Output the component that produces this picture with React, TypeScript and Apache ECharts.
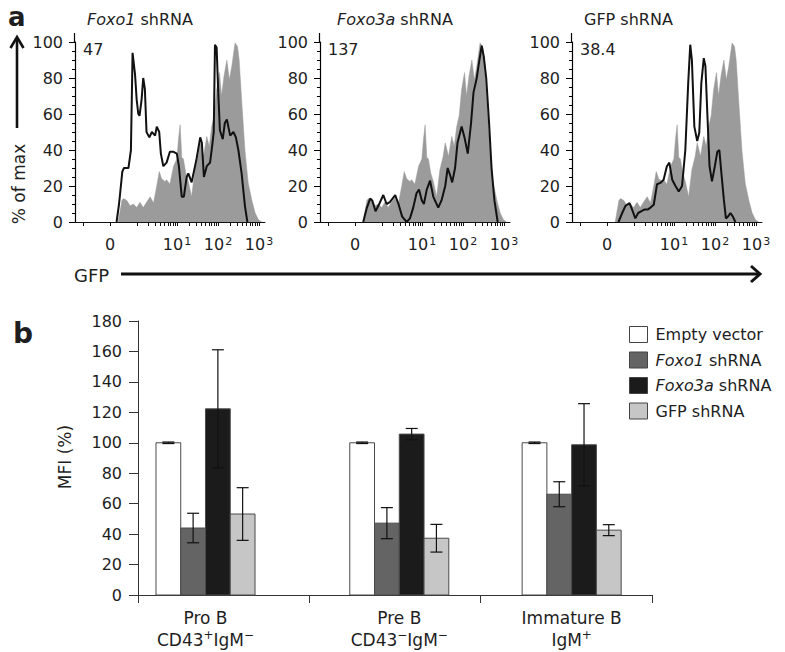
import React, { useEffect, useRef } from "react";
import * as echarts from "echarts";

const FONT = "'DejaVu Sans', 'Liberation Sans', sans-serif";
const TXT = "#1e1e1e";

// ---------------- Panel a : GFP histograms ----------------
// display transform of the biexponential GFP axis (decades on screen)
const BIEX_C = 0.465;
const toDisplay = (v: number) => Math.asinh(v / BIEX_C) / Math.LN10;

const histTitles = ["{i|Foxo1} shRNA", "{i|Foxo3a} shRNA", "GFP shRNA"];
const histMFI = ["47", "137", "38.4"];
const gfpTickValues = [0, 10, 100, 1000];
const gfpTickLabels = ["0", "10{s|1}", "10{s|2}", "10{s|3}"];
const gfpMinorTicks = [
  -1, 0, 1, 2, 3, 4, 5, 6, 7, 8, 9, 10, 20, 30, 40, 50, 60, 70, 80, 90, 100,
  200, 300, 400, 500, 600, 700, 800, 900, 1000,
];
const pctMajorTicks = [0, 20, 40, 60, 80, 100];
const pctMinorTicks = [5, 10, 15, 25, 30, 35, 45, 50, 55, 65, 70, 75, 85, 90, 95];
const PCT_MAX = 100;
const PCT_LINE_TOP = 105;

// x in display decades (0 = GFP 0), y in % of max
const controlHist: [number, number][] = [
  [0.2, 0], [0.29, 12], [0.33, 13], [0.41, 12], [0.49, 9], [0.57, 10], [0.65, 8],
  [0.73, 11], [0.81, 8], [0.89, 11], [0.98, 14], [1.06, 10.5], [1.14, 20],
  [1.2, 28], [1.26, 24], [1.34, 22.5], [1.38, 23.5], [1.46, 21], [1.55, 31],
  [1.63, 35], [1.67, 46], [1.71, 54], [1.75, 36], [1.79, 35], [1.85, 27],
  [1.91, 22.5], [1.99, 14], [2.07, 29], [2.15, 36.5], [2.2, 44], [2.28, 36.5],
  [2.36, 47.5], [2.42, 42], [2.48, 53], [2.54, 59], [2.6, 73.5], [2.67, 83],
  [2.72, 70], [2.78, 81], [2.85, 90], [2.91, 79], [2.97, 86.5], [3.05, 99.5],
  [3.11, 97.5], [3.15, 90], [3.21, 68], [3.29, 40], [3.37, 21.7], [3.46, 12],
  [3.54, 5], [3.62, 1.3], [3.7, 0],
];
const foxo1Hist: [number, number][] = [
  [0.16, 0], [0.22, 10], [0.3, 28], [0.34, 30], [0.45, 30], [0.51, 40], [0.55, 94],
  [0.61, 82], [0.65, 68], [0.69, 60], [0.72, 59], [0.77, 68], [0.81, 80],
  [0.85, 74], [0.89, 50], [0.96, 47], [1.02, 50], [1.1, 48], [1.14, 53],
  [1.2, 50], [1.24, 38], [1.3, 31], [1.38, 33], [1.46, 39], [1.55, 39],
  [1.63, 38], [1.68, 31], [1.75, 14], [1.8, 14], [1.87, 25], [1.91, 27],
  [1.99, 22], [2.11, 35], [2.2, 47], [2.24, 44], [2.29, 25], [2.36, 31],
  [2.44, 33], [2.49, 42], [2.53, 50], [2.56, 98.5], [2.6, 97], [2.64, 72],
  [2.68, 51], [2.75, 46], [2.8, 55], [2.85, 57], [2.93, 48], [3.01, 50],
  [3.07, 47], [3.13, 40], [3.21, 27], [3.29, 9], [3.35, 0],
];
const foxo3aHist: [number, number][] = [
  [0.2, 0], [0.29, 8], [0.37, 13], [0.42, 12], [0.5, 6], [0.59, 10], [0.69, 15],
  [0.77, 10], [0.85, 11], [0.98, 15], [1.06, 10], [1.15, 3], [1.26, 0],
  [1.34, 2], [1.42, 8], [1.5, 16], [1.56, 18], [1.63, 12], [1.68, 10],
  [1.75, 18], [1.83, 23], [1.91, 14], [2.03, 8], [2.11, 12], [2.2, 20],
  [2.26, 30], [2.32, 26], [2.37, 22], [2.44, 30], [2.5, 44], [2.6, 53],
  [2.67, 47], [2.75, 38], [2.83, 55], [2.89, 72], [2.97, 80], [3.02, 88],
  [3.09, 98], [3.14, 92], [3.2, 80], [3.27, 55], [3.33, 30], [3.4, 12], [3.48, 0],
];
const gfpHist: [number, number][] = [
  [0.28, 0], [0.37, 5], [0.45, 9], [0.55, 10.5], [0.61, 7], [0.69, 2], [0.76, 5],
  [0.84, 6], [0.92, 7], [1.0, 7], [1.06, 8], [1.14, 9.6], [1.22, 21], [1.3, 21.7],
  [1.38, 23.5], [1.46, 31], [1.52, 33], [1.59, 23.5], [1.67, 20], [1.75, 17],
  [1.83, 20], [1.91, 40], [1.98, 77], [2.03, 98.5], [2.07, 90], [2.13, 53],
  [2.2, 45], [2.25, 49.6], [2.3, 77], [2.36, 91], [2.4, 86.5], [2.44, 64],
  [2.5, 31], [2.56, 22.6], [2.63, 31], [2.69, 39], [2.74, 40], [2.79, 27],
  [2.85, 12.4], [2.9, 2], [2.95, 3], [3.01, 5], [3.07, 3], [3.13, 0],
];
const blackHists = [foxo1Hist, foxo3aHist, gfpHist];

// ---------------- Panel b : MFI bars ----------------
const groupNames = ["Pro B", "Pre B", "Immature B"];
const groupMarkers = ["CD43{p|+}IgM{p|−}", "CD43{p|−}IgM{p|−}", "IgM{p|+}"];
const groupPositions = [0.394, 1.525, 2.531];
const seriesNames = ["Empty vector", "Foxo1 shRNA", "Foxo3a shRNA", "GFP shRNA"];
const seriesColors = ["#ffffff", "#646464", "#1b1b1b", "#c6c6c6"];
const emptyVector = [100, 100, 100];
const emptyVectorErr = [0.5, 0.5, 0.5];
const foxo1 = [44, 47.2, 66.2];
const foxo1Err = [9.7, 10.2, 8.2];
const foxo3a = [122.3, 105.7, 98.7];
const foxo3aErr = [38.8, 3.7, 27];
const gfp = [53.2, 37.3, 42.6];
const gfpErr = [17.3, 9.1, 3.6];
const mfiValues = [emptyVector, foxo1, foxo3a, gfp];
const mfiErrors = [emptyVectorErr, foxo1Err, foxo3aErr, gfpErr];

// layout
const A_LEFTS = [75, 320, 572];
const A_WIDTH = 190;
const A_TOP = 42; // value 100
const A_HEIGHT = 180;
const X_SHIFT = 0.854; // the axis starts 0.854 decades below GFP = 0
const X_SPAN = 4.634;
const toAxis = (u: number) => u + X_SHIFT;
const BAR_W = 0.1445;
const CAP = 6;

export default function App() {
  const ref = useRef<HTMLDivElement>(null);

  useEffect(() => {
    if (!ref.current) return;
    const chart = echarts.init(ref.current, null, { renderer: "svg" });

    const grids: any[] = A_LEFTS.map((l) => ({
      left: l, top: A_TOP, width: A_WIDTH, height: A_HEIGHT, containLabel: false,
    }));
    grids.push({ left: 138, top: 321, width: 514, height: 274, containLabel: false });

    const labelPos = gfpTickValues.map((v) => toAxis(toDisplay(v)));

    const xAxes: any[] = A_LEFTS.map((_, i) => ({
      type: "value",
      gridIndex: i,
      min: 0,
      max: X_SPAN,
      axisLine: { show: true, lineStyle: { color: "#111", width: 1 } },
      axisTick: {
        show: true,
        length: 4,
        customValues: gfpMinorTicks.map((v) => toAxis(toDisplay(v))),
        lineStyle: { color: "#111", width: 1 },
      },
      axisLabel: {
        show: true,
        customValues: labelPos,
        formatter: (v: number) => {
          const k = labelPos.findIndex((t) => Math.abs(t - v) < 1e-6);
          return k < 0 ? "" : gfpTickLabels[k];
        },
        margin: 14,
        fontFamily: FONT,
        fontSize: 16,
        color: TXT,
        rich: {
          s: { fontFamily: FONT, fontSize: 11, color: TXT, verticalAlign: "top", padding: [0, 0, 6, 1] },
        },
      },
      splitLine: { show: false },
    }));
    xAxes.push({
      type: "value",
      gridIndex: 3,
      min: 0,
      max: 3,
      interval: 1,
      axisLine: { show: true, lineStyle: { color: "#333", width: 1 } },
      axisTick: { show: true, length: 8, customValues: [0, 1, 2, 3], lineStyle: { color: "#333" } },
      axisLabel: {
        show: true,
        customValues: groupPositions,
        formatter: (v: number) => {
          const k = groupPositions.findIndex((g) => Math.abs(g - v) < 1e-6);
          return k < 0 ? "" : `${groupNames[k]}\n${groupMarkers[k]}`;
        },
        margin: 12,
        fontFamily: FONT,
        fontSize: 17,
        lineHeight: 22,
        color: TXT,
        rich: {
          p: { fontFamily: FONT, fontSize: 12, color: TXT, verticalAlign: "top", lineHeight: 22, padding: [0, 0, 8, 0] },
        },
      },
      splitLine: { show: false },
    });

    // panel a y axes: same structure as the panel b axis (nice max, interval)
    const yAxes: any[] = A_LEFTS.map((_, i) => ({
      type: "value",
      gridIndex: i,
      position: "left",
      min: 0,
      max: PCT_MAX,
      interval: 20,
      axisLine: { show: true, lineStyle: { color: "#000", width: 1.2 } },
      axisTick: { show: true, length: 6, lineStyle: { color: "#000" } },
      minorTick: { show: true, splitNumber: 4, length: 3, lineStyle: { color: "#000" } },
      axisLabel: {
        show: true,
        margin: 12,
        fontFamily: FONT,
        fontSize: 16,
        color: TXT,
      },
      splitLine: { show: false },
    }));
    yAxes.push({
      type: "value",
      gridIndex: 3,
      min: 0,
      max: 180,
      interval: 20,
      axisLine: { show: true, lineStyle: { color: "#333", width: 1 } },
      axisTick: { show: true, length: 9, lineStyle: { color: "#333" } },
      axisLabel: {
        show: true,
        margin: 16,
        fontFamily: FONT,
        fontSize: 16,
        color: TXT,
      },
      splitLine: { show: false },
    });

    const shifted = (d: [number, number][]) => d.map(([u, y]) => [toAxis(u), y]);

    const series: any[] = [];
    A_LEFTS.forEach((_, i) => {
      series.push({
        type: "line",
        xAxisIndex: i,
        yAxisIndex: i,
        data: shifted(controlHist),
        symbol: "none",
        silent: true,
        lineStyle: { width: 0.5, color: "#9b9b9b" },
        itemStyle: { color: "#9b9b9b" },
        areaStyle: { color: "#9b9b9b", opacity: 1 },
        z: 2,
      });
      series.push({
        type: "line",
        xAxisIndex: i,
        yAxisIndex: i,
        data: shifted(blackHists[i]),
        symbol: "none",
        silent: true,
        lineStyle: { width: 2, color: "#111" },
        itemStyle: { color: "#111" },
        z: 3,
      });
    });

    seriesNames.forEach((name, si) => {
      series.push({
        type: "custom",
        name,
        xAxisIndex: 3,
        yAxisIndex: 3,
        itemStyle: { color: seriesColors[si], borderColor: "#444", borderWidth: 1 },
        encode: { x: 0, y: 1 },
        data: groupPositions.map((g, gi) => [
          g + (si - 1.5) * BAR_W,
          mfiValues[si][gi],
          mfiErrors[si][gi],
        ]),
        renderItem: (params: any, api: any) => {
          const x = api.value(0);
          const y = api.value(1);
          const e = api.value(2);
          const bl = api.coord([x - BAR_W / 2, 0]);
          const tr = api.coord([x + BAR_W / 2, y]);
          const hi = api.coord([x, y + e]);
          const lo = api.coord([x, y - e]);
          const es = { stroke: "#111", lineWidth: 1.2 };
          return {
            type: "group",
            children: [
              {
                type: "rect",
                shape: { x: bl[0], y: tr[1], width: tr[0] - bl[0], height: bl[1] - tr[1] },
                style: { fill: seriesColors[si], stroke: "#4a4a4a", lineWidth: 1 },
              },
              { type: "line", shape: { x1: hi[0], y1: hi[1], x2: lo[0], y2: lo[1] }, style: es },
              { type: "line", shape: { x1: hi[0] - CAP, y1: hi[1], x2: hi[0] + CAP, y2: hi[1] }, style: es },
              { type: "line", shape: { x1: lo[0] - CAP, y1: lo[1], x2: lo[0] + CAP, y2: lo[1] }, style: es },
            ],
          };
        },
      });
    });

    const txt = (extra: any) => ({
      fontFamily: FONT,
      fill: TXT,
      ...extra,
    });

    const graphic: any[] = [
      { type: "text", x: 8, y: 17, style: txt({ text: "a", fontSize: 26, fontWeight: "bold", align: "left", verticalAlign: "middle", textAlign: "left", textVerticalAlign: "middle" }) },
      { type: "text", x: 13, y: 333, style: txt({ text: "b", fontSize: 28, fontWeight: "bold", align: "left", verticalAlign: "middle", textAlign: "left", textVerticalAlign: "middle" }) },
      { type: "text", x: 19, y: 184, rotation: Math.PI / 2, style: txt({ text: "% of max", fontSize: 17, align: "center", verticalAlign: "middle", textAlign: "center", textVerticalAlign: "middle" }) },
      { type: "line", shape: { x1: 17, y1: 128, x2: 17, y2: 40 }, style: { stroke: "#111", lineWidth: 2.6 } },
      { type: "polyline", shape: { points: [[10.5, 48], [17, 37], [23.5, 48]] }, style: { stroke: "#111", lineWidth: 2.6, fill: null } },
      { type: "text", x: 74, y: 275, style: txt({ text: "GFP", fontSize: 18, align: "left", verticalAlign: "middle", textAlign: "left", textVerticalAlign: "middle" }) },
      { type: "line", shape: { x1: 121, y1: 274, x2: 758, y2: 274 }, style: { stroke: "#111", lineWidth: 3 } },
      { type: "polyline", shape: { points: [[751, 266], [760, 274], [751, 282]] }, style: { stroke: "#111", lineWidth: 3, fill: null } },
      { type: "text", x: 65, y: 457, rotation: Math.PI / 2, style: txt({ text: "MFI (%)", fontSize: 17, align: "center", verticalAlign: "middle", textAlign: "center", textVerticalAlign: "middle" }) },
    ];
    // short extension of each % of max axis line above 100, from the grid layout
    const pxPerPct = A_HEIGHT / PCT_MAX;
    A_LEFTS.forEach((l, i) => {
      graphic.push({
        type: "line",
        z: 100,
        silent: true,
        shape: { x1: l - 0.5, y1: A_TOP, x2: l - 0.5, y2: A_TOP - (PCT_LINE_TOP - PCT_MAX) * pxPerPct },
        style: { stroke: "#000", lineWidth: 1.2 },
      });
      graphic.push({
        type: "text",
        x: l + (i === 1 ? 17 : 12),
        y: 19,
        style: txt({
          text: histTitles[i],
          fontSize: 16,
          align: "left",
          verticalAlign: "middle",
          textAlign: "left",
          textVerticalAlign: "middle",
          rich: { i: { fontFamily: FONT, fontSize: 16, fontStyle: "italic", fill: TXT, color: TXT } },
        }),
      });
      graphic.push({
        type: "text",
        x: l + 8,
        y: 49,
        style: txt({ text: histMFI[i], fontSize: 16, align: "left", verticalAlign: "middle", textAlign: "left", textVerticalAlign: "middle" }),
      });
    });

    chart.setOption({
      animation: false,
      backgroundColor: "#ffffff",
      textStyle: { fontFamily: FONT },
      grid: grids,
      xAxis: xAxes,
      yAxis: yAxes,
      series,
      graphic,
      legend: {
        orient: "vertical",
        left: 624,
        top: 321,
        itemWidth: 18,
        itemHeight: 16,
        itemGap: 8.5,
        icon: "rect",
        selectedMode: false,
        data: seriesNames.map((n, i) => ({
          name: n,
          itemStyle: { color: seriesColors[i], borderColor: "#444", borderWidth: 1 },
        })),
        formatter: (n: string) => n.replace(/^(Foxo\w+)/, "{i|$1}"),
        textStyle: {
          fontFamily: FONT,
          fontSize: 16,
          color: TXT,
          padding: [0, 0, 0, 3],
          rich: { i: { fontFamily: FONT, fontSize: 16, fontStyle: "italic", color: TXT } },
        },
      },
    });

    return () => chart.dispose();
  }, []);

  return (
    <div
      ref={ref}
      style={{ position: "fixed", left: 0, top: 0, width: 785, height: 652, background: "#fff" }}
    />
  );
}
